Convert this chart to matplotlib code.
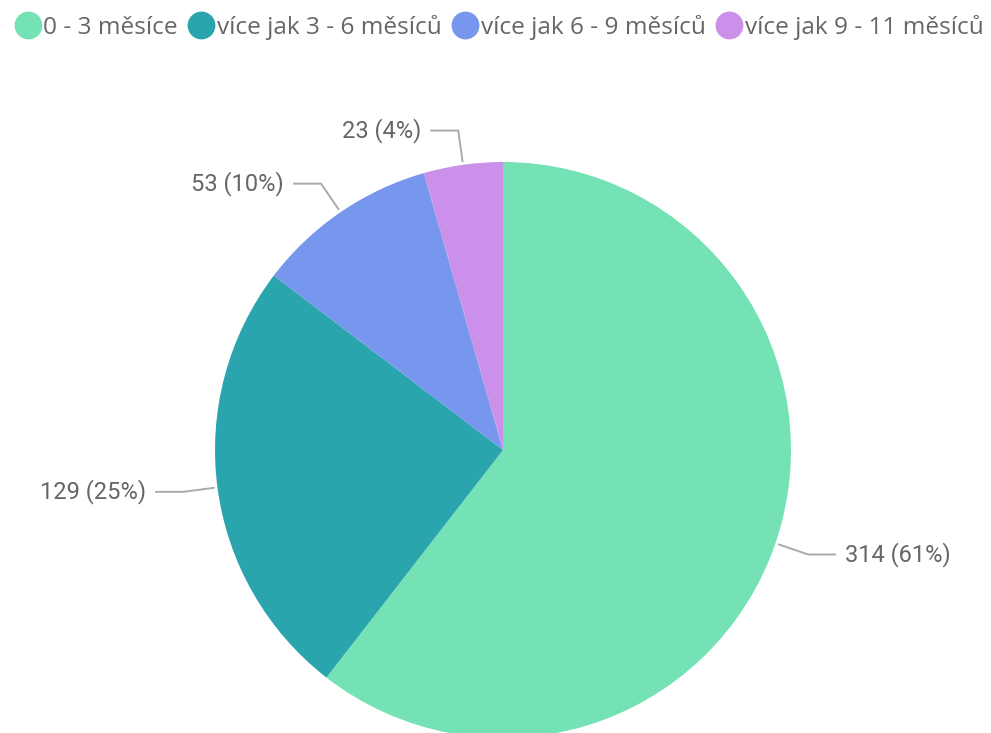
import numpy as np
import matplotlib
matplotlib.use("Agg")
import matplotlib.pyplot as plt
from matplotlib.lines import Line2D

# data
categories = ["0 - 3 měsíce", "více jak 3 - 6 měsíců", "více jak 6 - 9 měsíců", "více jak 9 - 11 měsíců"]
counts = [314, 129, 53, 23]
colors = ["#74E2B5", "#2AA5AD", "#7797EE", "#CB90EA"]

W, H = 991, 733
fig = plt.figure(figsize=(W / 100, H / 100), dpi=100)
ax = fig.add_axes([0, 0, 1, 1])

R = 288
cx, cy = 503, H - 450
wedges, _ = ax.pie(counts, colors=colors, startangle=90, counterclock=False,
                   radius=R, center=(cx, cy), frame=True,
                   wedgeprops=dict(linewidth=0))
ax.set_xlim(0, W)
ax.set_ylim(0, H)
ax.set_aspect("equal")
ax.axis("off")

total = sum(counts)
txt_col = "#666666"
line_col = "#AAAAAA"
for w, n in zip(wedges, counts):
    ang = np.deg2rad((w.theta1 + w.theta2) / 2)
    x0, y0 = cx + 1.01 * R * np.cos(ang), cy + 1.01 * R * np.sin(ang)
    x1, y1 = cx + 1.12 * R * np.cos(ang), cy + 1.12 * R * np.sin(ang)
    side = 1 if np.cos(ang) > 0 else -1
    x2 = x1 + side * 28
    ax.plot([x0, x1, x2], [y0, y1, y1], color=line_col, lw=1.4, solid_capstyle="butt")
    pct = round(n / total * 100)
    ax.text(x2 + side * 9, y1, f"{n} ({pct}%)", ha="left" if side > 0 else "right",
            va="center", fontsize=17, color=txt_col, family="Roboto")

handles = [Line2D([], [], marker="o", linestyle="none", markersize=19,
                  markerfacecolor=c, markeredgecolor=c) for c in colors]
fig.legend(handles, categories, loc="upper center", bbox_to_anchor=(0.503, 1.003), ncol=4,
           frameon=False, handletextpad=0.05, columnspacing=0.4, handlelength=1.15,
           prop=dict(family="Open Sans", size=17.6), labelcolor=txt_col,
           borderaxespad=0.3)

fig.savefig("out.png", dpi=100)
